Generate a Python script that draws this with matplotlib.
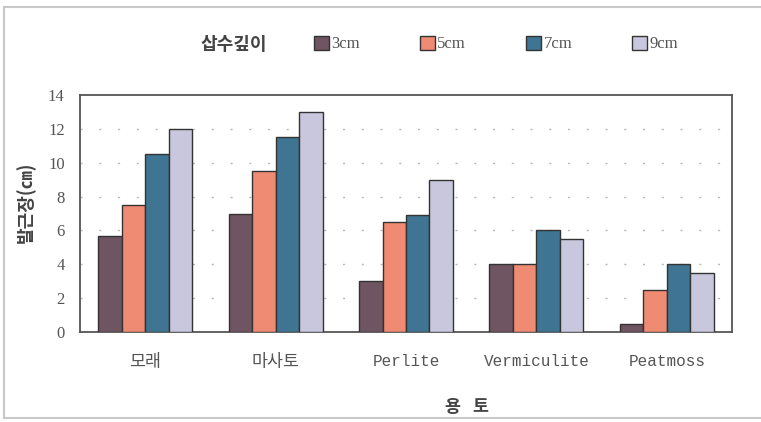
import numpy as np
import matplotlib
matplotlib.use('Agg')
import matplotlib.pyplot as plt
from matplotlib.patches import Patch
from matplotlib.lines import Line2D

# root length by medium and cutting depth
media  = ['모래', '마사토', 'Perlite', 'Vermiculite', 'Peatmoss']
depths = ['3cm', '5cm', '7cm', '9cm']
d3 = [5.7, 7.0, 3.0, 4.0, 0.5]
d5 = [7.5, 9.5, 6.5, 4.0, 2.5]
d7 = [10.5, 11.5, 6.9, 6.0, 4.0]
d9 = [12.0, 13.0, 9.0, 5.5, 3.5]
yticks = [0, 2, 4, 6, 8, 10, 12, 14]

cols = ['#6f5562', '#ef8b73', '#3f7592', '#c9c7dd']
kr   = ['Noto Sans CJK KR', 'DejaVu Sans']
mono = ['Liberation Mono', 'Noto Sans CJK KR']
ser  = ['Liberation Serif', 'Noto Sans CJK KR']

fig = plt.figure(figsize=(7.61, 4.22), dpi=100)
ax  = fig.add_axes([80/761, 1-332/422, 652/761, 237/422])

x = np.arange(len(media))
w = 0.18
for i, vals in enumerate([d3, d5, d7, d9]):
  ax.bar(x + (i-1.5)*w, vals, w, color=cols[i], edgecolor='#333333', lw=1.0, zorder=3)

ax.set_xlim(-0.5, len(media)-0.5)
ax.set_ylim(0, 14)
ax.set_yticks(yticks)
ax.set_yticklabels([str(v) for v in yticks], family=ser, fontsize=12, color='#555555')
ax.set_xticks(x)
ax.set_xticklabels(media, family=mono, fontsize=11.5, color='#555555')
for t in ax.get_xticklabels():
  if not t.get_text().isascii():
    t.set_fontsize(12.5)
ax.tick_params(axis='y', length=0, pad=11)
ax.tick_params(axis='x', length=0, pad=16)
for v in yticks[1:-1]:
  ax.axhline(v, color='#b8b8b8', lw=1.0, ls=(0, (1.5, 12)), zorder=1)
for s in ax.spines.values():
  s.set_color('#555555')
  s.set_linewidth(1.3)

fig.text(26/761, 1-202/422, '발근장(㎝)', family=kr, fontsize=13, fontweight='bold',
         color='#444444', rotation=90, ha='center', va='center')
fig.text(467/761, 1-407/422, '용   토', family=kr, fontsize=12.5, fontweight='bold',
         color='#444444', ha='center', va='center')

# legend header and entries
fig.text(234/761, 1-44/422, '삽수깊이', family=kr, fontsize=13, fontweight='bold',
         color='#444444', ha='center', va='center')
hnd = [Patch(facecolor=c, edgecolor='#333333', lw=1.0) for c in cols]
fig.legend(hnd, depths, loc='center left', bbox_to_anchor=(307/761, 1-44/422),
           ncol=4, frameon=False, handlelength=0.9, handleheight=0.9,
           handletextpad=0.15, columnspacing=3.6, borderaxespad=0,
           prop={'family': ser, 'size': 12}, labelcolor='#555555')

# light outer frame
for xs, ys in [([4, 761], [7, 7]), ([4, 4], [7, 418]), ([4, 761], [418, 418])]:
  fig.add_artist(Line2D([a/761 for a in xs], [1-b/422 for b in ys],
                        color='#c8c8c8', lw=1.5))

plt.savefig('out.png', dpi=100)
